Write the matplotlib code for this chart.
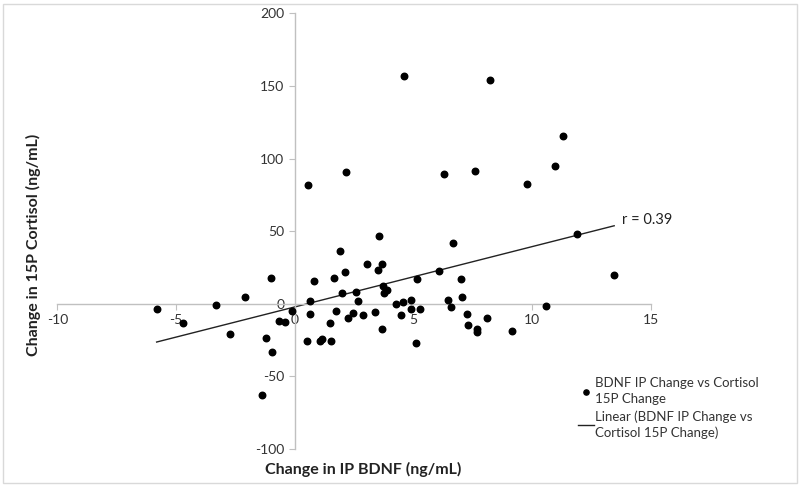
import matplotlib.pyplot as plt
import numpy as np

# Change in IP BDNF (ng/mL) vs change in 15P cortisol (ng/mL)
bdnf = [-5.82, -4.69, -3.32, -2.09, -2.71, -1.01, -1.20, -0.94, -1.36, -0.65,
        -0.40, -0.10, 0.66, 0.64, 0.83, 0.50, 1.05, 1.14, 1.52, 1.47,
        1.66, 1.74, 1.92, 1.97, 2.11, 2.25, 2.47, 2.57, 2.65, 2.89,
        3.05, 3.40, 3.51, 3.55, 3.69, 3.69, 3.73, 3.78, 3.90, 4.27,
        4.49, 4.56, 4.89, 4.89, 5.14, 5.10, 5.28, 6.08, 6.68, 7.01,
        6.45, 7.05, 6.59, 7.26, 7.32, 7.67, 7.67, 8.10, 9.16, 10.59,
        13.46, 4.59, 8.24, 11.31, 10.98, 9.79, 6.29, 7.60, 11.90, 0.55,
        2.15]
cortisol = [-3.4, -13.0, -0.7, 5.0, -21.0, 17.8, -23.6, -33.4, -63.1, -11.9,
            -12.3, -5.1, 2.1, -7.1, 16.0, -25.6, -25.6, -24.3, -25.6, -13.0,
            17.8, -4.8, 36.3, 7.5, 21.7, -9.6, -6.2, 8.4, 2.1, -8.0,
            27.2, -6.0, 23.5, 46.8, 27.6, -17.6, 11.9, 7.7, 9.3, -0.3,
            -8.0, 1.4, 2.9, -3.9, 17.1, -27.0, -3.9, 22.4, 41.6, 17.1,
            2.9, 5.0, -2.1, -7.3, -14.9, -17.2, -19.2, -9.6, -18.8, -1.4,
            19.9, 157.1, 154.0, 115.2, 94.9, 82.7, 89.2, 91.4, 48.0, 82.0,
            90.7]

x_ticks = [-10, -5, 0, 5, 10, 15]
y_ticks = [-100, -50, 0, 50, 100, 150, 200]

plt.rcParams['font.family'] = ['Lato', 'DejaVu Sans']
plt.rcParams['axes.unicode_minus'] = False

fig = plt.figure(figsize=(8, 4.87), dpi=100)
ax = fig.add_axes([0.0718, 0.078, 0.7416, 0.8947])

ax.scatter(bdnf, cortisol, s=22, color='black', zorder=3,
           label='BDNF IP Change vs Cortisol\n15P Change')

# linear trendline over the data range
slope, intercept = np.polyfit(bdnf, cortisol, 1)
xs = np.array([min(bdnf), max(bdnf)])
ax.plot(xs, slope * xs + intercept, color='#222222', lw=1.0, zorder=2,
        label='Linear (BDNF IP Change vs\nCortisol 15P Change)')
ax.text(13.8, 57.8, 'r = 0.39', fontsize=10.5, color='#222222', va='center')

ax.set_xlim(-10, 15)
ax.set_ylim(-100, 200)
ax.set_xticks(x_ticks)
ax.set_yticks(y_ticks)

ax.spines['left'].set_position(('data', 0))
ax.spines['bottom'].set_position(('data', 0))
ax.spines['right'].set_visible(False)
ax.spines['top'].set_visible(False)
for s in ['left', 'bottom']:
    ax.spines[s].set_color('#c0c0c0')
    ax.spines[s].set_linewidth(1.0)
ax.tick_params(axis='both', colors='#c0c0c0', labelcolor='#333333',
               labelsize=10, length=4, direction='out')

fig.text(0.454, 0.035, 'Change in IP BDNF (ng/mL)', fontsize=11.5,
         fontweight='bold', ha='center', va='center', color='#222222')
fig.text(0.042, 0.497, 'Change in 15P Cortisol (ng/mL)', fontsize=11.5,
         fontweight='bold', ha='center', va='center', rotation=90, color='#222222')

leg = ax.legend(loc='upper left', bbox_to_anchor=(0.708, 0.25), bbox_transform=fig.transFigure,
                frameon=False, fontsize=9.5, handlelength=1.2, handletextpad=0.05,
                labelspacing=0.45, labelcolor='#333333', markerscale=0.8)
for t in leg.get_texts():
    t.set_linespacing(1.35)

# light outer border of the chart area
fig.patches.append(plt.Rectangle((0.004, 0.008), 0.992, 0.984, transform=fig.transFigure,
                                 fill=False, edgecolor='#d9d9d9', lw=1.0))

fig.savefig('out.png', dpi=100)
